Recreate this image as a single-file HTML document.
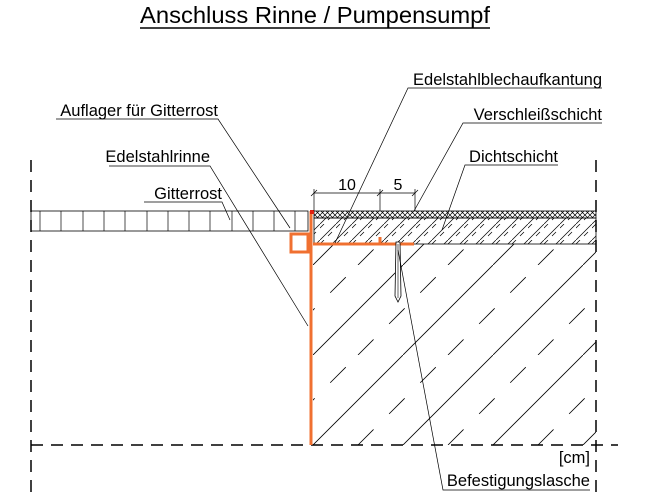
<!DOCTYPE html>
<html><head><meta charset="utf-8"><style>
html,body{margin:0;padding:0;background:#fff;}
svg{display:block;font-family:"Liberation Sans",sans-serif;}
</style></head><body>
<svg width="650" height="500" viewBox="0 0 650 500" xmlns="http://www.w3.org/2000/svg">
<defs>
<pattern id="conc" patternUnits="userSpaceOnUse" width="90" height="90" x="313" y="445">
<line x1="0" y1="90" x2="90" y2="0" stroke="#000" stroke-width="0.8"/>
<line x1="-45" y1="90" x2="45" y2="0" stroke="#000" stroke-width="0.8" stroke-dasharray="22,22"/>
<line x1="45" y1="90" x2="135" y2="0" stroke="#000" stroke-width="0.8" stroke-dasharray="22,22"/>
</pattern>
<pattern id="seal" patternUnits="userSpaceOnUse" width="16" height="16">
<line x1="0" y1="16" x2="16" y2="0" stroke="#000" stroke-width="0.7"/>
<line x1="8" y1="12" x2="12" y2="8" stroke="#000" stroke-width="0.7"/>
<line x1="0" y1="4" x2="4" y2="0" stroke="#000" stroke-width="0.7"/>
</pattern>
<pattern id="wear" patternUnits="userSpaceOnUse" width="5" height="5">
<path d="M0 0L5 5M5 0L0 5" stroke="#000" stroke-width="0.7"/>
</pattern>
</defs>

<text x="315" y="23" font-size="23.5" text-anchor="middle" textLength="350" lengthAdjust="spacingAndGlyphs">Anschluss Rinne / Pumpensumpf</text>
<line x1="140" y1="28" x2="490" y2="28" stroke="#000" stroke-width="1.5"/>

<rect x="313" y="244" width="283" height="201" fill="url(#conc)"/>
<rect x="314" y="218" width="282" height="26" fill="url(#seal)" stroke="#000" stroke-width="0.8"/>
<rect x="314" y="211" width="282" height="7" fill="url(#wear)" stroke="#000" stroke-width="0.8"/>

<rect x="31" y="211" width="277" height="20" fill="none" stroke="#000" stroke-width="0.8"/>
<g stroke="#000" stroke-width="0.7">
<line x1="40" y1="211" x2="40" y2="231"/><line x1="61" y1="211" x2="61" y2="231"/><line x1="83" y1="211" x2="83" y2="231"/><line x1="104" y1="211" x2="104" y2="231"/><line x1="125" y1="211" x2="125" y2="231"/><line x1="147" y1="211" x2="147" y2="231"/><line x1="168" y1="211" x2="168" y2="231"/><line x1="189" y1="211" x2="189" y2="231"/><line x1="210" y1="211" x2="210" y2="231"/><line x1="232" y1="211" x2="232" y2="231"/><line x1="253" y1="211" x2="253" y2="231"/><line x1="274" y1="211" x2="274" y2="231"/><line x1="295" y1="211" x2="295" y2="231"/>
</g>

<g stroke="#000" stroke-width="1.5" stroke-dasharray="12,8" fill="none">
<line x1="31" y1="160" x2="31" y2="495"/>
<line x1="596" y1="160" x2="596" y2="495"/>
<line x1="31" y1="445" x2="618" y2="445"/>
</g>

<g stroke="#f07030" fill="none" stroke-width="3">
<line x1="311" y1="211" x2="311" y2="445"/>
<rect x="291" y="234" width="17" height="18"/>
<line x1="313" y1="244" x2="414" y2="244"/>
<line x1="380" y1="237" x2="380" y2="244"/>
</g>
<rect x="310" y="210" width="4" height="4" fill="#e02010"/>

<path d="M396 242 L400 242 L401 296 L398 302 L395 296 Z" fill="#fff" stroke="#000" stroke-width="0.8"/>
<line x1="398" y1="244" x2="398" y2="298" stroke="#000" stroke-width="0.6"/>

<g stroke="#000" stroke-width="0.7">
<line x1="314" y1="193" x2="415" y2="193"/>
<line x1="314" y1="189" x2="314" y2="211"/>
<line x1="380" y1="189" x2="380" y2="211"/>
<line x1="415" y1="189" x2="415" y2="211"/>
<line x1="311" y1="196" x2="317" y2="190"/>
<line x1="377" y1="196" x2="383" y2="190"/>
<line x1="412" y1="196" x2="418" y2="190"/>
</g>
<text x="347" y="190" font-size="16" text-anchor="middle">10</text>
<text x="398" y="190" font-size="16" text-anchor="middle">5</text>

<g font-size="16.5">
<text x="602" y="85" text-anchor="end">Edelstahlblechaufkantung</text>
<text x="602" y="120" text-anchor="end">Verschleißschicht</text>
<text x="558" y="162" text-anchor="end">Dichtschicht</text>
<text x="218" y="116" text-anchor="end">Auflager für Gitterrost</text>
<text x="210" y="162" text-anchor="end">Edelstahlrinne</text>
<text x="222" y="199" text-anchor="end">Gitterrost</text>
<text x="590" y="486" text-anchor="end">Befestigungslasche</text>
<text x="590" y="463" text-anchor="end">[cm]</text>
</g>
<g stroke="#000" stroke-width="0.7" fill="none">
<polyline points="602,88 408,88 335,243"/>
<polyline points="602,123 463,123 414,211"/>
<polyline points="558,165 465,165 442,230"/>
<polyline points="56,119 218,119 290,228"/>
<polyline points="109,166 210,166 308,326"/>
<polyline points="144,202 222,202 230,220"/>
<polyline points="590,490 443,490 398,250"/>
</g>
</svg>
</body></html>
